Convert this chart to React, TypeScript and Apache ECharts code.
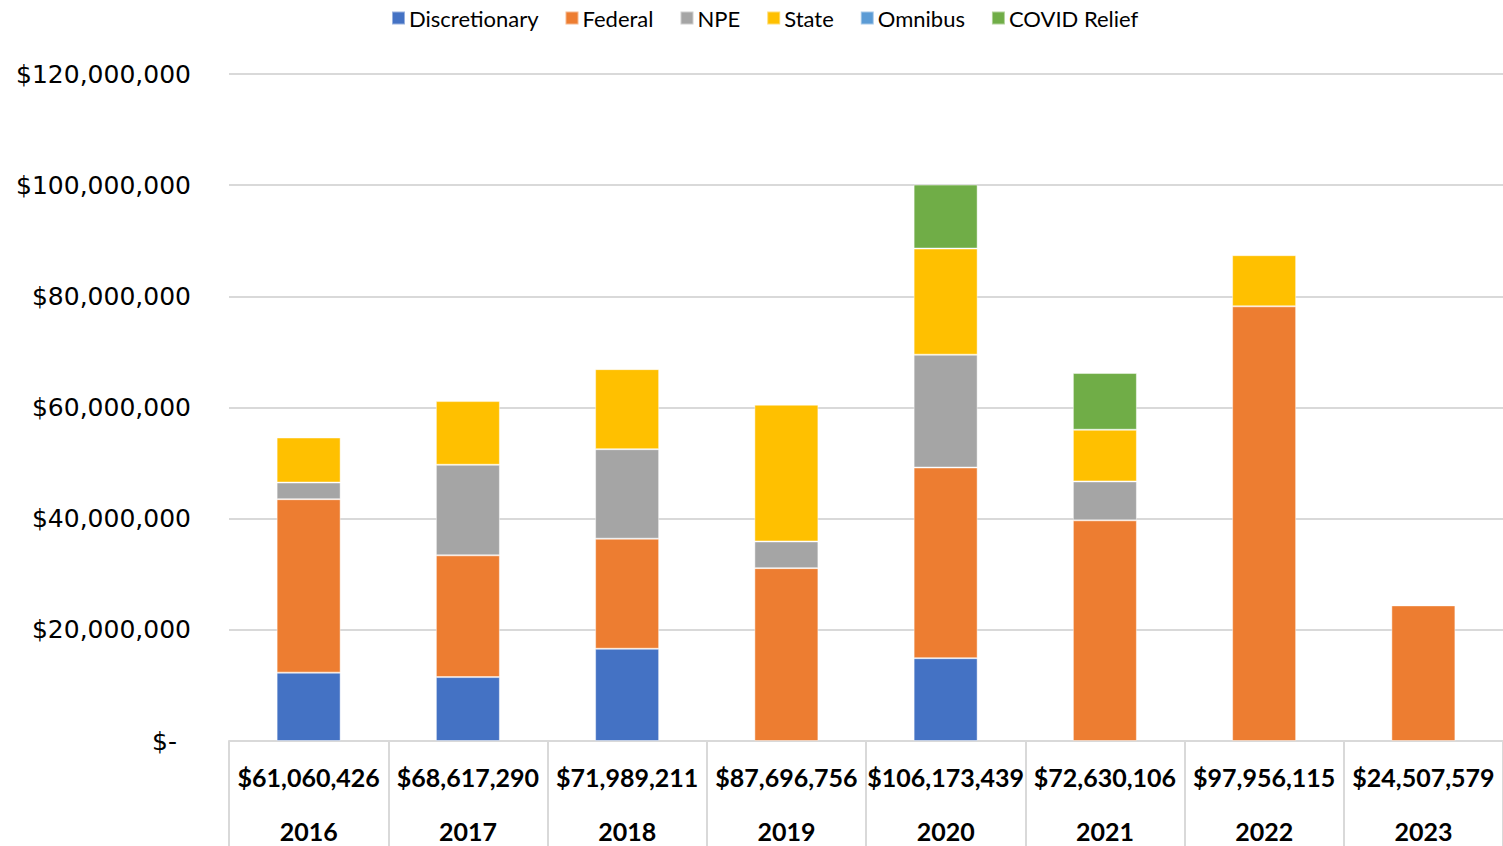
import React, { useEffect, useRef } from "react";
import * as echarts from "echarts";

const years = ["2016", "2017", "2018", "2019", "2020", "2021", "2022", "2023"];
const totalLabels = [
  "$61,060,426",
  "$68,617,290",
  "$71,989,211",
  "$87,696,756",
  "$106,173,439",
  "$72,630,106",
  "$97,956,115",
  "$24,507,579",
];
// values in dollars
const discretionary = [12.3e6, 11.5e6, 16.6e6, 0, 14.9e6, 0, 0, 0];
const federal = [31.2e6, 21.9e6, 19.8e6, 31.1e6, 34.3e6, 39.7e6, 78.2e6, 24.4e6];
const npe = [3.0e6, 16.3e6, 16.1e6, 4.8e6, 20.3e6, 7.0e6, 0, 0];
const state = [8.1e6, 11.45e6, 14.4e6, 24.6e6, 19.1e6, 9.3e6, 9.2e6, 0];
const omnibus = [0, 0, 0, 0, 0, 0, 0, 0];
const covidRelief = [0, 0, 0, 0, 11.5e6, 10.2e6, 0, 0];

const seriesNames = ["Discretionary", "Federal", "NPE", "State", "Omnibus", "COVID Relief"];
const seriesColors = ["#4472C4", "#ED7D31", "#A5A5A5", "#FFC000", "#5B9BD5", "#70AD47"];
const seriesData = [discretionary, federal, npe, state, omnibus, covidRelief];

const yTicks = { min: 0, max: 120e6, interval: 20e6 };

function fmtMoney(v: number) {
  if (v === 0) return "{z|$-}";
  return "$" + Math.round(v).toLocaleString("en-US");
}

export default function App() {
  const ref = useRef<HTMLDivElement>(null);
  useEffect(() => {
    document.body.style.margin = "0";
    const chart = echarts.init(ref.current!, null, { renderer: "svg" });
    const cats = years.map((y, i) => totalLabels[i] + "\n" + y);
    chart.setOption({
      animation: false,
      backgroundColor: "#ffffff",
      legend: {
        top: 2,
        left: 386,
        itemWidth: 13,
        itemHeight: 13,
        itemGap: 26,
        icon: "rect",
        textStyle: { fontFamily: "Lato", fontSize: 22, color: "#000", padding: [0, 0, 0, -1] },
        data: seriesNames,
      },
      grid: { left: 229, right: 0, top: 74, bottom: 105, containLabel: false, outerBoundsMode: "none" },
      xAxis: {
        type: "category",
        data: cats,
        axisLine: { show: true, lineStyle: { color: "#d9d9d9", width: 2 } },
        axisTick: { show: true, length: 105, lineStyle: { color: "#d9d9d9", width: 2 } },
        axisLabel: {
          fontFamily: "Lato",
          fontWeight: "bold",
          fontSize: 25,
          color: "#000",
          lineHeight: 54,
          margin: 9,
          interval: 0,
        },
      },
      yAxis: {
        type: "value",
        min: yTicks.min,
        max: yTicks.max,
        interval: yTicks.interval,
        axisLine: { show: false },
        axisTick: { show: false },
        splitLine: { lineStyle: { color: "#d9d9d9", width: 2 } },
        axisLabel: {
          fontFamily: "DejaVu Sans",
          fontSize: 25,
          color: "#000",
          margin: 38,
          formatter: fmtMoney,
          rich: { z: { fontFamily: "DejaVu Sans", fontSize: 25, color: "#000", padding: [0, 14, 0, 0] } },
        },
      },
      series: seriesNames.map((name, k) => ({
        name,
        type: "bar",
        stack: "total",
        barWidth: 64,
        itemStyle: { color: seriesColors[k], borderColor: "rgba(255,255,255,0.45)", borderWidth: 1 },
        data: seriesData[k].map((v) => (v === 0 ? null : v)),
      })),
    });
    return () => chart.dispose();
  }, []);
  return <div ref={ref} style={{ width: 1503, height: 846 }} />;
}
